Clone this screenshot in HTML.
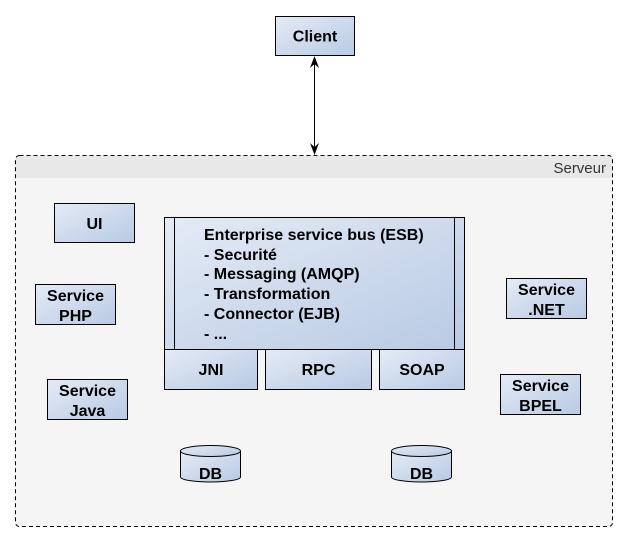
<!DOCTYPE html>
<html><head><meta charset="utf-8"><style>
html,body{margin:0;padding:0;background:#fff;width:628px;height:542px;overflow:hidden}
text{font-family:"Liberation Sans",sans-serif;font-weight:bold;font-size:16px;fill:#000}
</style></head><body>
<svg width="628" height="542" viewBox="0 0 628 542" xmlns="http://www.w3.org/2000/svg">
<defs>
<linearGradient id="g" x1="0" y1="0" x2="1" y2="1">
<stop offset="0" stop-color="#e4ebf6"/><stop offset="1" stop-color="#b8cae3"/>
</linearGradient>
</defs>
<rect x="15.5" y="155.5" width="597" height="371" rx="4" fill="#f5f5f5"/>
<path d="M19.5 155.5 H608.5 Q612.5 155.5 612.5 159.5 V178 H15.5 V159.5 Q15.5 155.5 19.5 155.5Z" fill="#e8e8e8"/>
<rect x="15.5" y="155.5" width="597" height="371" rx="4" fill="none" stroke="#000" stroke-dasharray="4,3"/>
<text x="606" y="173" text-anchor="end" style="font-weight:normal;font-size:15px;fill:#333">Serveur</text>
<line x1="314.5" y1="62" x2="314.5" y2="147" stroke="#000"/>
<path d="M314.5 56 L310 68 L314.5 64 L319 68Z" fill="#000"/>
<path d="M314.5 155 L310 143 L314.5 147 L319 143Z" fill="#000"/>
<rect x="275.5" y="16.5" width="79" height="39" fill="url(#g)" stroke="#000"/>
<text x="315" y="41.5" text-anchor="middle">Client</text>
<rect x="54.5" y="203.5" width="80" height="39" fill="url(#g)" stroke="#000"/>
<text x="94.5" y="229" text-anchor="middle">UI</text>
<rect x="35.5" y="284.5" width="80" height="40" fill="url(#g)" stroke="#000"/>
<text x="75.5" y="301" text-anchor="middle">Service</text>
<text x="75.5" y="321" text-anchor="middle">PHP</text>
<rect x="47.5" y="379.5" width="80" height="40" fill="url(#g)" stroke="#000"/>
<text x="87.5" y="396" text-anchor="middle">Service</text>
<text x="87.5" y="416" text-anchor="middle">Java</text>
<rect x="506.5" y="278.5" width="80" height="40" fill="url(#g)" stroke="#000"/>
<text x="546.5" y="295" text-anchor="middle">Service</text>
<text x="546.5" y="315" text-anchor="middle">.NET</text>
<rect x="500.5" y="374.5" width="80" height="40" fill="url(#g)" stroke="#000"/>
<text x="540.5" y="391" text-anchor="middle">Service</text>
<text x="540.5" y="411" text-anchor="middle">BPEL</text>
<rect x="164.5" y="217.5" width="300" height="132" fill="url(#g)" stroke="#000"/>
<line x1="174.5" y1="217.5" x2="174.5" y2="349.5" stroke="#000"/>
<line x1="454.5" y1="217.5" x2="454.5" y2="349.5" stroke="#000"/>
<text x="204" y="240">Enterprise service bus (ESB)</text>
<text x="204" y="260">- Securité</text>
<text x="204" y="279">- Messaging (AMQP)</text>
<text x="204" y="299">- Transformation</text>
<text x="204" y="319">- Connector (EJB)</text>
<text x="204" y="339">- ...</text>
<rect x="164.5" y="349.5" width="93" height="40" fill="url(#g)" stroke="#000"/>
<text x="211" y="375" text-anchor="middle">JNI</text>
<rect x="265.5" y="349.5" width="106" height="40" fill="url(#g)" stroke="#000"/>
<text x="318.5" y="375" text-anchor="middle">RPC</text>
<rect x="379.5" y="349.5" width="85" height="40" fill="url(#g)" stroke="#000"/>
<text x="422" y="375" text-anchor="middle">SOAP</text>
<g>
<path d="M180.5 451 V477 A30 5 0 0 0 240.5 477 V451" fill="url(#g)" stroke="#000"/>
<ellipse cx="210.5" cy="451" rx="30" ry="5.5" fill="url(#g)" stroke="#000"/>
<text x="210.5" y="479" text-anchor="middle">DB</text>
</g>
<g>
<path d="M391.5 451 V477 A30 5 0 0 0 451.5 477 V451" fill="url(#g)" stroke="#000"/>
<ellipse cx="421.5" cy="451" rx="30" ry="5.5" fill="url(#g)" stroke="#000"/>
<text x="421.5" y="479" text-anchor="middle">DB</text>
</g>
</svg>
</body></html>
